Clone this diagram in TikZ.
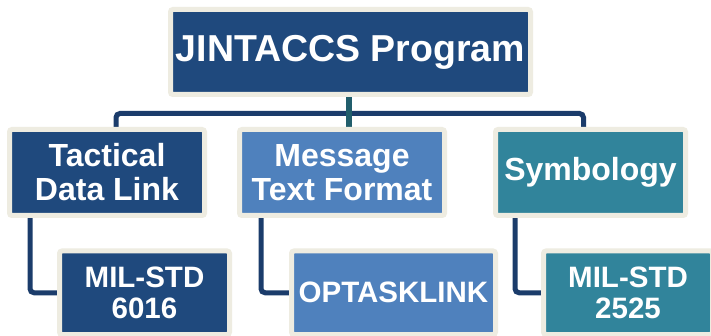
\documentclass[tikz,border=0pt]{standalone}
\usepackage{fontspec}
\setmainfont{Liberation Sans}
\pgfdeclarelayer{background}
\pgfsetlayers{background,main}
\definecolor{navyfill}{HTML}{1F497D}
\definecolor{lightfill}{HTML}{4F81BD}
\definecolor{tealfill}{HTML}{31849B}
\definecolor{creamframe}{HTML}{EEECE1}
\definecolor{connnavy}{HTML}{1B3C6B}
\definecolor{stemteal}{HTML}{215E6C}
\tikzset{
  boxbase/.style={draw=creamframe, line width=5pt, rounded corners=2.5pt,
    inner sep=0pt, align=center, text=white},
  topbox/.style={boxbase, fill=navyfill, minimum width=360pt, minimum height=85pt,
    font=\fontsize{37.5}{40}\selectfont\bfseries},
  midbox/.style={boxbase, minimum height=86pt,
    font=\fontsize{32}{34}\selectfont\bfseries},
  childbox/.style={boxbase, minimum height=83.5pt,
    font=\fontsize{29.5}{30.5}\selectfont\bfseries},
  conn/.style={draw=connnavy, line width=5pt, rounded corners=4pt},
  stem/.style={draw=stemteal, line width=6.5pt}
}
\begin{document}
\begin{tikzpicture}[x=1pt,y=-1pt]
\clip (0,0) rectangle (711,336);
\node[topbox] (top) at (350.5,52) {JINTACCS Program};
\node[midbox, fill=navyfill, minimum width=195pt] (tdl) at (107,172.5) {Tactical\\Data Link};
\node[midbox, fill=lightfill, minimum width=205pt] (mtf) at (342,172.5) {Message\\Text Format};
\node[midbox, fill=tealfill, minimum width=190pt] (sym) at (590.5,172.5) {Symbology};
\node[childbox, fill=navyfill, minimum width=170pt] (m6016) at (144.5,292.75) {MIL-STD\\6016};
\node[childbox, fill=lightfill, minimum width=204pt] (opt) at (393.5,292.75) {OPTASKLINK};
\node[childbox, fill=tealfill, minimum width=169pt] (m2525) at (628,292.75) {MIL-STD\\2525};
\coordinate (bus) at (349,113.5);
\begin{pgfonlayer}{background}
\fill[white] (0,0) rectangle (711,336);
\draw[conn] ([xshift=9pt]tdl.north) |- (bus) -| ([xshift=-7pt]sym.north);
\draw[stem] (top.south -| bus) -- (bus |- mtf.north);
\draw[conn] ([xshift=-77pt]tdl.south) |- (m6016.west);
\draw[conn] ([xshift=-81pt]mtf.south) |- (opt.west);
\draw[conn] ([xshift=-75.5pt]sym.south) |- (m2525.west);
\end{pgfonlayer}
\end{tikzpicture}
\end{document}
